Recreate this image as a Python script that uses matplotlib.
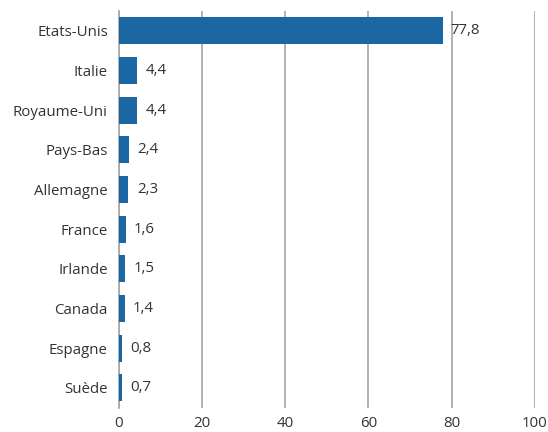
import matplotlib
matplotlib.use("Agg")
import matplotlib.pyplot as plt

countries = ["Etats-Unis", "Italie", "Royaume-Uni", "Pays-Bas", "Allemagne",
             "France", "Irlande", "Canada", "Espagne", "Suède"]
values = [77.8, 4.4, 4.4, 2.4, 2.3, 1.6, 1.5, 1.4, 0.8, 0.7]
xticks = [0, 20, 40, 60, 80, 100]

plt.rcParams['font.family'] = ['Open Sans', 'DejaVu Sans']

fig = plt.figure(figsize=(5.48, 4.32), dpi=100)
ax = fig.add_axes([0.217, 0.056, 0.759, 0.919])

ypos = list(range(len(countries)))
ax.barh(ypos, values, height=0.68, color='#1a67a3', zorder=3)
for y, v in zip(ypos, values):
    ax.text(v + 2.0, y, f"{v:.1f}".replace('.', ','), va='center', ha='left',
            fontsize=10.8, color='#333333', zorder=4)

ax.set_ylim(len(countries) - 0.5, -0.5)
ax.set_xlim(0, 100)
ax.set_yticks(ypos)
ax.set_yticklabels(countries, fontsize=10.8, color='#333333')
ax.set_xticks(xticks)
ax.set_xticklabels([str(t) for t in xticks], fontsize=10.8, color='#333333')
ax.tick_params(axis='y', length=0, pad=8)
ax.tick_params(axis='x', length=0, pad=6)
ax.xaxis.grid(True, color='#a6a6a6', linewidth=1.2, zorder=0)
for s in ['top', 'right', 'bottom']:
    ax.spines[s].set_visible(False)
ax.spines['left'].set_color('#a6a6a6')
ax.spines['left'].set_linewidth(1.2)

fig.savefig('out.png', dpi=100)
